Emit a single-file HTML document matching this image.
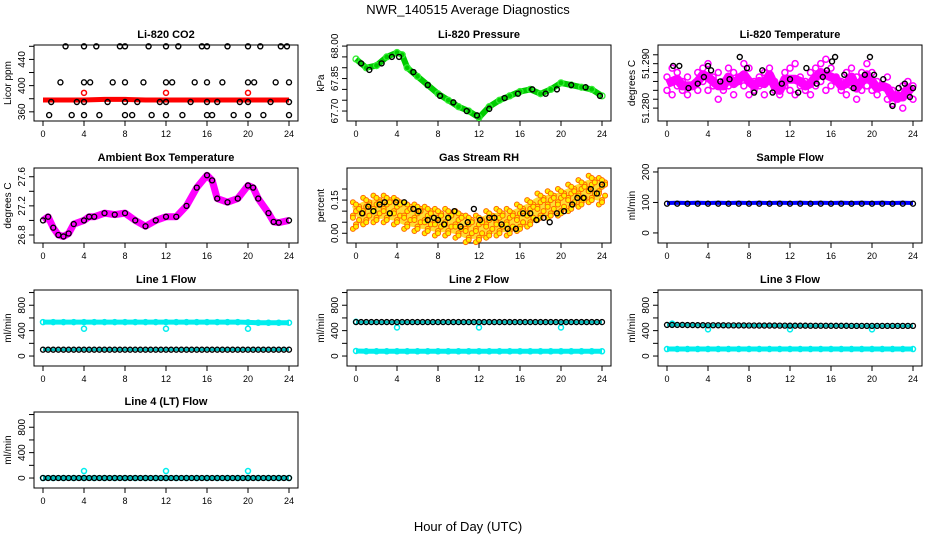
<!DOCTYPE html>
<html><head><meta charset="utf-8"><style>
body{margin:0;background:#fff}
svg{display:block;font-family:"Liberation Sans",Arial,sans-serif}
</style></head><body>
<svg id="c" width="936" height="540" xmlns="http://www.w3.org/2000/svg">
<text x="468" y="14" text-anchor="middle" font-size="13">NWR_140515  Average Diagnostics</text>
<text x="468" y="531" text-anchor="middle" font-size="13">Hour of Day (UTC)</text>
</svg>
<script>
// ---- data ----
const xTicks=[0,4,8,12,16,20,24];
const co2Ticks=[360,380,400,420,440,460];
const co2Labels=[360,400,440];
const co2RedT=[0,2,4,6,8,10,12,14,16,18,20,22,24];
const co2RedV=[378,378,378,379,379,378,378,378,378,378,378,378,378];
const co2SpikeT=[4,12,20];
const co2SpikeV=[389,389,389];
const co2BlkT=[2.2,4,5.2,7.5,8,10.3,12,13.2,15.5,16,18,20,21.2,23.2,23.8,1.7,4,4.6,6.8,8,9.8,12,12.6,14.8,16,17.5,20,20.6,22.7,24,0.8,3.3,4,6.3,8,9.2,11.4,12,14.4,16,17,19.2,20,22.2,24,0.6,2.8,4,5.5,8,8.7,10.6,12,13.6,16,16.5,18.6,20,21.5,24];
const co2BlkV=[460,460,460,460,460,460,460,460,460,460,460,460,460,460,460,405,405,405,405,405,405,405,405,405,405,405,405,405,405,405,375,375,375,375,375,375,375,375,375,375,375,375,375,375,375,355,355,355,355,355,355,355,355,355,355,355,355,355,355,355];
const presTicks=[67.70,67.75,67.80,67.85,67.90,67.95,68.00];
const presLabels=[67.70,67.85,68.00];
const presT=[0,1,2,3,4,4.5,5,6,7,8,9,10,11,12,13,14,15,16,17,18,19,20,21,22,23,24];
const presV=[67.94,67.90,67.91,67.95,67.97,67.96,67.90,67.86,67.82,67.78,67.75,67.72,67.70,67.67,67.72,67.75,67.77,67.79,67.80,67.78,67.80,67.83,67.82,67.81,67.80,67.77];
const presBlkT=[0.5,1.3,2.5,3.5,4.2,5.6,7,8.2,9.5,10.8,11.8,13,14.5,15.8,17.2,18.5,19.6,21,22.4,23.8];
const presBlkV=[67.92,67.89,67.92,67.95,67.95,67.88,67.82,67.77,67.74,67.70,67.68,67.71,67.76,67.78,67.80,67.78,67.80,67.82,67.81,67.77];
const tempTicks=[51.280,51.282,51.284,51.286,51.288,51.290,51.292];
const tempLabels=[51.280,51.290];
const tempT=[0,0.5,1,1.5,2,2.5,3,3.5,4,4.5,5,5.5,6,6.5,7,7.5,8,8.5,9,9.5,10,10.5,11,11.5,12,12.5,13,13.5,14,14.5,15,15.5,16,16.5,17,17.5,18,18.5,19,19.5,20,20.5,21,21.5,22,22.5,23,23.5,24];
const tempA=[51.287,51.289,51.288,51.286,51.287,51.285,51.288,51.289,51.290,51.287,51.288,51.286,51.289,51.288,51.287,51.290,51.289,51.286,51.287,51.288,51.289,51.286,51.285,51.288,51.289,51.290,51.287,51.286,51.288,51.289,51.290,51.291,51.289,51.287,51.286,51.288,51.289,51.287,51.288,51.290,51.288,51.286,51.285,51.287,51.284,51.283,51.285,51.286,51.285];
const tempB=[51.284,51.283,51.285,51.284,51.283,51.285,51.284,51.286,51.284,51.285,51.282,51.284,51.285,51.283,51.286,51.285,51.283,51.284,51.285,51.283,51.286,51.284,51.283,51.285,51.284,51.283,51.285,51.284,51.283,51.285,51.286,51.284,51.285,51.286,51.284,51.283,51.285,51.282,51.284,51.285,51.284,51.283,51.285,51.282,51.281,51.282,51.280,51.283,51.282];
const tempBlkT=[0.6,1.2,2.1,3,3.6,4,4.3,5.2,6.1,7.1,7.8,8.5,9.3,10.3,11.2,12,12.8,13.6,14.6,15.2,15.6,16.1,16.4,17.3,18.2,19.3,19.8,20.2,21.1,22,22.6,23.2,23.7,24];
const tempBlkV=[51.2895,51.2895,51.2845,51.2855,51.287,51.2895,51.2885,51.286,51.2865,51.2915,51.289,51.2835,51.2885,51.2835,51.2855,51.2865,51.2835,51.289,51.2855,51.287,51.2885,51.2905,51.2915,51.2875,51.2845,51.2875,51.2915,51.2875,51.2865,51.2805,51.2845,51.2855,51.2825,51.2845];
const ambTicks=[26.8,27.0,27.2,27.4,27.6];
const ambLabels=[26.8,27.2,27.6];
const ambT=[0,0.5,1,1.5,2,2.5,3,4,4.5,5,6,7,8,9,10,11,12,13,14,15,16,16.5,17,18,19,20,20.5,21,22,22.5,23,24];
const ambV=[27.0,27.05,26.9,26.8,26.78,26.82,26.95,27.0,27.05,27.05,27.1,27.08,27.1,27.0,26.92,27.0,27.05,27.05,27.2,27.45,27.62,27.55,27.3,27.25,27.3,27.48,27.45,27.3,27.1,26.98,26.97,27.0];
const rhTicks=[0.00,0.05,0.10,0.15,0.20];
const rhLabels=[0.00,0.15];
const rhT=[0,1,2,3,4,5,6,7,8,9,10,11,12,13,14,15,16,17,18,19,20,21,22,23,24];
const rhV=[0.08,0.10,0.11,0.11,0.10,0.08,0.07,0.06,0.05,0.05,0.04,0.02,0.02,0.04,0.05,0.05,0.07,0.09,0.12,0.13,0.14,0.16,0.18,0.20,0.19];
const rhSpread=[-0.06,-0.04,-0.02,0,0.02,0.04,0.06,-0.05,0.03,-0.01,0.05];
const rhBlkT=[0.6,1.2,1.7,2.3,2.8,3.3,3.9,4.7,5.6,6.1,7,7.6,8,8.6,9,9.6,10.2,10.9,11.5,12.1,13,13.5,14.2,14.8,15.6,16.3,17,17.6,18.3,18.9,19.6,20.3,21.1,21.6,22.2,22.9,23.5,24];
const rhBlkV=[0.09,0.12,0.10,0.13,0.14,0.09,0.14,0.14,0.11,0.10,0.06,0.07,0.06,0.04,0.07,0.10,0.03,0.05,0.11,0.06,0.07,0.07,0.04,0.02,0.02,0.09,0.09,0.06,0.07,0.05,0.09,0.10,0.13,0.16,0.16,0.20,0.18,0.22];
const sfTicks=[0,100,200];
const sfBlue=[98,99,98,99,98,99,98,99,98,99,98,99,98,99,98,99,98,99,98,99,98,99,98,99,98];
const sfBlk=[96,96,96,96,96,96,96,96,96,96,96,96,96,96,96,96,96,96,96,96,96,96,96,96,96];
const flowTicks=[0,200,400,600,800,1000];
const flowLabels=[0,400,800];
const hours=[0,1,2,3,4,5,6,7,8,9,10,11,12,13,14,15,16,17,18,19,20,21,22,23,24];
const l1Cyan=[535,535,535,535,535,535,535,535,535,535,535,535,535,535,535,535,535,535,535,535,530,525,525,525,525];
const l1Blk=[100,100,100,100,100,100,100,100,100,100,100,100,100,100,100,100,100,100,100,100,100,100,100,100,100];
const l1SpT=[4,12,20]; const l1SpV=[430,430,430];
const l2Cyan=[80,75,75,75,75,75,75,75,75,75,75,75,75,75,75,75,75,75,75,75,75,75,75,75,75];
const l2Blk=[535,535,535,535,535,535,535,535,535,535,535,535,535,535,535,535,535,535,535,535,535,535,535,535,535];
const l2SpT=[0,4,12,20]; const l2SpV=[540,450,450,450];
const l3Cyan=[110,110,110,110,110,110,110,110,110,110,110,110,110,110,110,110,110,110,110,110,110,110,110,110,110];
const l3Blk=[490,490,488,486,485,484,483,482,481,480,480,479,478,478,477,477,476,476,475,475,475,475,475,475,475];
const l3SpT=[0.5,4,12,20]; const l3SpV=[510,420,420,420];
const l4Cyan=[0,0,0,0,0,0,0,0,0,0,0,0,0,0,0,0,0,0,0,0,0,0,0,0,0];
const l4Blk=[0,0,0,0,0,0,0,0,0,0,0,0,0,0,0,0,0,0,0,0,0,0,0,0,0];
const l4SpT=[4,12,20]; const l4SpV=[110,110,110];

// ---- drawing ----
const svg=document.getElementById('c');
const NS='http://www.w3.org/2000/svg';
function mk(tag,attrs,parent){const e=document.createElementNS(NS,tag);for(const k in attrs)e.setAttribute(k,attrs[k]);(parent||svg).appendChild(e);return e;}
const colX=[43,356,667];
const rowBox=[[45,121],[168,243],[290,366],[412,488]];
function panel(col,row,title,ylab,lo,hi,ticks,labels,fmt){
  const g=mk('g',{});
  
  
  const x0=colX[col],[top,bot]=rowBox[row];
  const left=x0-9,right=x0+255;
  const xs=t=>x0+t*246/24;
  const ys=v=>bot-(v-lo)/(hi-lo)*(bot-top);
  const box=mk('rect',{x:left,y:top,width:right-left,height:bot-top,fill:'none',stroke:'#000','stroke-width':1},g);
  
  
  const tt=mk('text',{x:(left+right)/2,y:top-7,'text-anchor':'middle','font-size':11,'font-weight':'bold'},g);
  tt.textContent=title;
  
  
  xTicks.forEach(t=>{
    mk('line',{x1:xs(t),x2:xs(t),y1:bot,y2:bot+5,stroke:'#000'},g);
    const l=mk('text',{x:xs(t),y:bot+16,'text-anchor':'middle','font-size':9},g);l.textContent=t;
    
    
  });
  mk('line',{x1:xs(0),x2:xs(24),y1:bot,y2:bot,stroke:'#000'},g);
  ticks.forEach(v=>{mk('line',{x1:left,x2:left-5,y1:ys(v),y2:ys(v),stroke:'#000'},g);});
  labels.forEach(v=>{
    const l=mk('text',{x:0,y:0,'text-anchor':'middle','font-size':10,transform:`translate(${left-9},${ys(v)}) rotate(-90)`},g);
    l.textContent=fmt?fmt(v):v;
    
    
  });
  mk('line',{x1:left,x2:left,y1:ys(ticks[0]),y2:ys(ticks[ticks.length-1]),stroke:'#000'},g);
  const yl=mk('text',{x:0,y:0,'text-anchor':'middle','font-size':10,transform:`translate(${left-23},${(top+bot)/2}) rotate(-90)`},g);
  yl.textContent=ylab;
  
  
  const pts=(T,V,col,r,sw,name,fill)=>{T.forEach((t,i)=>{const c=mk('circle',{cx:xs(t),cy:ys(V[i]),r:r,fill:fill||'none',stroke:col,'stroke-width':sw},g);
    
    });};
  const line=(T,V,col,w,name)=>{const p=mk('polyline',{points:T.map((t,i)=>xs(t)+','+ys(V[i])).join(' '),fill:'none',stroke:col,'stroke-width':w,'stroke-linejoin':'round'},g);
    
    };
  return {pts,line,xs,ys,g};
}
const f1=v=>v.toFixed(1), f2=v=>v.toFixed(2), f3=v=>v.toFixed(3);
// CO2
let p=panel(0,0,'Li-820 CO2','Licor ppm',346,462,co2Ticks,co2Labels);
p.line(co2RedT,co2RedV,'#f00',5,'co2-series');
p.pts(co2SpikeT,co2SpikeV,'#f00',2.5,1.5,'co2-point');
p.pts(co2BlkT,co2BlkV,'#000',2.5,1.4,'co2-hourly-point');
// Pressure
p=panel(1,0,'Li-820 Pressure','kPa',67.654,68.005,presTicks,presLabels,f2);
p.line(presT,presV,'#0c0',6,'pressure-series');
p.pts(presT,presV,'#3e3',3,1.3,'pressure-point');
p.pts(presBlkT,presBlkV,'#000',2.5,1.4,'pressure-hourly-point');
// Temperature
p=panel(2,0,'Li-820 Temperature','degrees C',51.2771,51.2942,tempTicks,tempLabels,f3);
p.pts(tempT,tempA,'#f0f',3,1.5,'temp-point');
p.pts(tempT,tempB,'#f0f',3,1.5,'temp-point');
p.line(tempT,tempA.map((a,i)=>(a+tempB[i])/2),'#f0f',9,'temp-cloud');
p.pts(tempBlkT,tempBlkV,'#000',2.5,1.4,'temp-hourly-point');
// Ambient
p=panel(0,1,'Ambient Box Temperature','degrees C',26.69,27.72,ambTicks,ambLabels,f1);
p.line(ambT,ambV,'#f0f',7,'ambient-series');
p.pts(ambT,ambV,'#000',2.5,1.3,'ambient-hourly-point');
// RH
p=panel(1,1,'Gas Stream RH','percent',-0.044,0.295,rhTicks,rhLabels,f2);
p.line(rhT,rhV,'#fd3',20,'rh-cloud');
rhSpread.forEach((d,j)=>p.pts(rhT.map(t=>t+(j%3-1)*0.3),rhV.map(v=>v+d),'#f60',2.5,1,'rh-point','#fe0'));
p.pts(rhBlkT,rhBlkV,'#000',2.5,1.4,'rh-hourly-point');
// Sample flow
p=panel(2,1,'Sample Flow','ml/min',-33,213,sfTicks,sfTicks);
p.line(hours,sfBlue,'#00f',4,'sample-flow-series');
p.pts(hours,sfBlk,'#000',2.5,1.3,'sample-flow-point');
// Line flows
const lf=(c,r,t,cy,bk,spT,spV)=>{const q=panel(c,r,t,'ml/min',-157,1040,flowTicks,flowLabels);
  q.line(hours,cy,'#0ee',5,'cyan-series');
  q.pts(hours,cy,'#0ee',2.5,1.5,'cyan-point');
  q.pts(spT,spV,'#0ee',2.5,1.5,'cyan-spike');
  q.line(hours,bk,'#0bb',3,'black-series-fill');
  q.pts(hours,bk,'#000',2.5,1.3,'black-point');
  q.pts(hours.map(h=>h+0.5).filter(h=>h<=24),bk,'#000',2.5,1.3,'black-point');};
lf(0,2,'Line 1 Flow',l1Cyan,l1Blk,l1SpT,l1SpV);
lf(1,2,'Line 2 Flow',l2Cyan,l2Blk,l2SpT,l2SpV);
lf(2,2,'Line 3 Flow',l3Cyan,l3Blk,l3SpT,l3SpV);
lf(0,3,'Line 4 (LT) Flow',l4Cyan,l4Blk,l4SpT,l4SpV);
</script>
</body></html>
